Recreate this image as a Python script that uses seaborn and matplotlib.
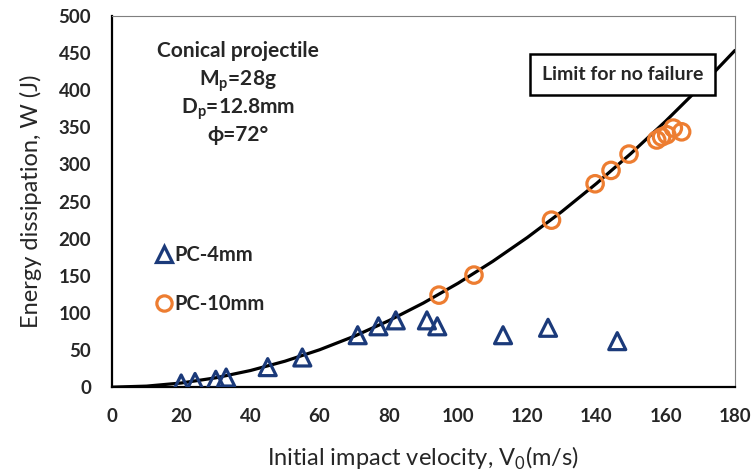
import matplotlib
matplotlib.use("Agg")
import matplotlib.pyplot as plt
import seaborn as sns
from matplotlib.lines import Line2D

# Data
pc4_velocity = [20, 24, 30, 33, 45, 55, 71, 77, 82, 91, 94, 113, 126, 146]
pc4_energy = [5, 7, 10, 13, 27, 40, 70, 82, 90, 90, 82, 70, 80, 62]

pc10_velocity = [94.5, 104.6, 127, 139.6, 144.2, 149.4, 157.4, 158.8, 160.3, 162.2, 164.6]
pc10_energy = [124, 151, 225, 274, 292, 314, 333, 337, 340, 349, 344]

# "Limit for no failure" curve, read every 10 m/s
curve_velocity = [0, 10, 20, 30, 40, 50, 60, 70, 80, 90, 100, 110, 120, 130, 140, 150, 160, 170, 180]
curve_energy = [0, 1.4, 5.6, 12.6, 22.4, 35, 50.4, 68.6, 89.6, 113.4, 140, 169.4, 201.6,
                236.6, 274.4, 315, 358.4, 404.6, 453.6]

x_ticks = [0, 20, 40, 60, 80, 100, 120, 140, 160, 180]
y_ticks = [0, 50, 100, 150, 200, 250, 300, 350, 400, 450, 500]

NAVY = '#1b3a7a'
ORANGE = '#ed7d31'

sns.set_style("white")
plt.rcParams['font.family'] = ['Lato', 'DejaVu Sans']
plt.rcParams['mathtext.fontset'] = 'custom'
plt.rcParams['mathtext.rm'] = 'Lato'
plt.rcParams['mathtext.bf'] = 'Lato:bold'

fig = plt.figure(figsize=(7.53, 4.71), dpi=100)
ax = fig.add_axes([0.1487, 0.178, 0.8273, 0.788])

sns.lineplot(x=curve_velocity, y=curve_energy, color='black', linewidth=2.3, ax=ax, zorder=2)
sns.scatterplot(x=pc4_velocity, y=pc4_energy, marker='^', s=150, color=NAVY,
                facecolor='none', edgecolor=NAVY, linewidth=2.3, ax=ax, zorder=3)
sns.scatterplot(x=pc10_velocity, y=pc10_energy, marker='o', s=140, color=ORANGE,
                facecolor='none', edgecolor=ORANGE, linewidth=2.3, ax=ax, zorder=3)

ax.set_xlim(0, 180)
ax.set_ylim(0, 500)
ax.set_xticks(x_ticks)
ax.set_yticks(y_ticks)
ax.tick_params(direction='in', length=4, width=1.5, pad=15, labelsize=13.5)
for lab in ax.get_xticklabels() + ax.get_yticklabels():
    lab.set_fontweight('bold')

for side in ['left', 'bottom']:
    ax.spines[side].set_color('black')
    ax.spines[side].set_linewidth(1.6)
for side in ['top', 'right']:
    ax.spines[side].set_color('#7f7f7f')
    ax.spines[side].set_linewidth(0.8)

ax.set_xlabel(r'Initial impact velocity, V$_\mathregular{0}$(m/s)', fontsize=17, labelpad=14)
ax.set_ylabel('Energy dissipation, W (J)', fontsize=17, labelpad=12)

# Projectile description
info = ['Conical projectile', r'M$_\mathbf{p}$=28g', r'D$_\mathbf{p}$=12.8mm', 'ϕ=72°']
info_y = [453, 412, 375, 340]
for t, yy in zip(info, info_y):
    ax.text(36.4, yy, t, ha='center', va='center', fontsize=15, fontweight='bold')

ax.text(147.5, 421, 'Limit for no failure', ha='center', va='center', fontsize=14,
        fontweight='bold', zorder=4,
        bbox=dict(boxstyle='square,pad=0.62', facecolor='white', edgecolor='black', linewidth=1.8))

handles = [
    Line2D([], [], marker='^', linestyle='none', markersize=11, markerfacecolor='none',
           markeredgecolor=NAVY, markeredgewidth=2.3, label='PC-4mm'),
    Line2D([], [], marker='o', linestyle='none', markersize=11, markerfacecolor='none',
           markeredgecolor=ORANGE, markeredgewidth=2.3, label='PC-10mm'),
]
leg = ax.legend(handles=handles, loc='center left', bbox_to_anchor=(0.067, 0.29), frameon=False,
                fontsize=14.5, labelspacing=1.4, handletextpad=0.05, handlelength=1.0,
                borderpad=0, borderaxespad=0)
for t in leg.get_texts():
    t.set_fontweight('bold')

fig.savefig('out.png', dpi=100)
